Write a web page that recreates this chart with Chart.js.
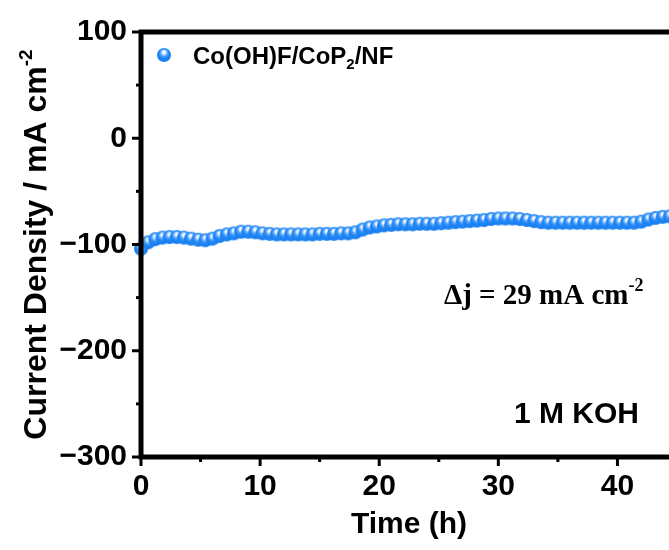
<!DOCTYPE html>
<html><head><meta charset="utf-8">
<script src="https://cdn.jsdelivr.net/npm/chart.js@4.4.1/dist/chart.umd.min.js"></script>
<style>
html,body{margin:0;padding:0;background:#fff;overflow:hidden;}
#wrap{width:669px;height:550px;overflow:hidden;position:relative;background:#fff;}
#box{width:690px;height:550px;position:relative;}
canvas{display:block;}
</style></head><body>
<div id="wrap"><div id="box"><canvas id="c"></canvas></div></div>
<script>
// ---- data ----
const timeStepH = 0.6; // sampling interval of plotted markers (h)
const currentDensity = [
  -104, -98, -95, -93.5, -93, -93, -93.5, -94.5, -95.5, -96,
  -94.5, -92, -90.5, -89.5, -88, -88, -88.5, -89.5, -90, -90.5,
  -90.5, -90.5, -90.5, -90.5, -90.5, -90, -90, -90, -89.5, -89.5,
  -88.5, -86, -84, -83, -82, -81.5, -81, -81, -81, -80.5,
  -80.5, -80.5, -80, -79.5, -79, -78.5, -78, -77.5, -77, -76,
  -75.5, -75.5, -75.5, -76, -77, -78, -79, -79.5, -79.5, -79.5,
  -79.5, -79.5, -79.5, -79.5, -79.5, -79.5, -79.5, -79.5, -79.5, -79.5,
  -78.5, -76.5, -75, -74, -73.5, -73.5
];
const seriesName = ['Co(OH)F/CoP', '2', '/NF'];
const xTickValues = [0, 5, 10, 15, 20, 25, 30, 35, 40, 45];
const xTickLabels = ['0', '', '10', '', '20', '', '30', '', '40', ''];
const yTickValues = [100, 50, 0, -50, -100, -150, -200, -250, -300];
const yTickLabels = ['100', '', '0', '', '\u2212100', '', '\u2212200', '', '\u2212300'];
const xTitle = 'Time (h)';
const yTitle = ['Current Density / mA cm', '-2'];
const deltaText = ['\u0394j = 29 mA cm', '-2'];
const electrolyteText = '1 M KOH';

// ---- styling ----
const SANS = '"Liberation Sans", Arial, sans-serif';
const SERIF = '"Liberation Serif", "Times New Roman", serif';
const BLUE = '#1a7ff0';

function makeSphere(r) {
  const s = Math.ceil(r * 2 + 2);
  const c = document.createElement('canvas');
  c.width = s; c.height = s;
  const g = c.getContext('2d');
  const cx = s / 2, cy = s / 2;
  const grad = g.createRadialGradient(cx, cy - r * 0.45, 0, cx, cy - r * 0.15, r * 1.05);
  grad.addColorStop(0, '#ffffff');
  grad.addColorStop(0.2, '#eef5ff');
  grad.addColorStop(0.45, '#5aa8ff');
  grad.addColorStop(0.68, '#2086f5');
  grad.addColorStop(1, '#1a7ff0');
  g.fillStyle = grad;
  g.beginPath(); g.arc(cx, cy, r, 0, Math.PI * 2); g.fill();
  return c;
}
const sphere = makeSphere(7);
const legendSphere = makeSphere(7);

const points = currentDensity.map((v, i) => ({ x: +(i * timeStepH).toFixed(2), y: v }));

function drawSup(ctx, parts, x, y, font, supFont, supRaise, align) {
  ctx.font = font;
  const w1 = ctx.measureText(parts[0]).width;
  ctx.font = supFont;
  const w2 = ctx.measureText(parts[1]).width;
  let sx = x;
  if (align === 'center') sx = x - (w1 + w2) / 2;
  ctx.textAlign = 'left';
  ctx.textBaseline = 'alphabetic';
  ctx.font = font;
  ctx.fillText(parts[0], sx, y);
  ctx.font = supFont;
  ctx.fillText(parts[1], sx + w1, y - supRaise);
}

const framePlugin = {
  id: 'frame',
  afterDraw(chart) {
    const { ctx, chartArea: a, scales } = chart;
    const xs = scales.x, ys = scales.y;
    ctx.save();
    ctx.strokeStyle = '#000';
    ctx.fillStyle = '#000';
    // ticks
    ctx.lineWidth = 3;
    xTickValues.forEach((v, i) => {
      const px = xs.getPixelForValue(v);
      const len = xTickLabels[i] !== '' ? 9 : 5;
      ctx.beginPath(); ctx.moveTo(px, a.bottom); ctx.lineTo(px, a.bottom + len); ctx.stroke();
    });
    yTickValues.forEach((v, i) => {
      const py = ys.getPixelForValue(v);
      const len = yTickLabels[i] !== '' ? 9 : 5;
      ctx.beginPath(); ctx.moveTo(a.left, py); ctx.lineTo(a.left - len, py); ctx.stroke();
    });
    // frame
    ctx.lineWidth = 5;
    ctx.strokeRect(a.left, a.top, a.right - a.left, a.bottom - a.top);

    // y title
    ctx.save();
    ctx.translate(34, (a.top + a.bottom) / 2);
    ctx.rotate(-Math.PI / 2);
    drawSup(ctx, yTitle, 0, 11.5, 'bold 32px ' + SANS, 'bold 19px ' + SANS, 14, 'center');
    ctx.restore();

    // legend
    ctx.drawImage(legendSphere, 164 - legendSphere.width / 2, 55 - legendSphere.height / 2);
    ctx.textBaseline = 'alphabetic';
    ctx.textAlign = 'left';
    ctx.font = 'bold 24px ' + SANS;
    let lx = 193;
    const ly = 64;
    ctx.fillText(seriesName[0], lx, ly); lx += ctx.measureText(seriesName[0]).width;
    ctx.font = 'bold 15px ' + SANS;
    ctx.fillText(seriesName[1], lx, ly + 5); lx += ctx.measureText(seriesName[1]).width;
    ctx.font = 'bold 24px ' + SANS;
    ctx.fillText(seriesName[2], lx, ly);

    // annotations
    drawSup(ctx, deltaText, 444, 304, 'bold 29px ' + SERIF, 'bold 18px ' + SERIF, 13, 'left');
    ctx.font = 'bold 30px ' + SANS;
    ctx.textAlign = 'left';
    ctx.textBaseline = 'alphabetic';
    ctx.fillText(electrolyteText, 514, 423);
    ctx.restore();
  }
};

new Chart(document.getElementById('c'), {
  type: 'scatter',
  data: {
    datasets: [{
      label: seriesName.join(''),
      data: points,
      pointStyle: sphere,
      pointRadius: 7,
      pointHoverRadius: 7,
      showLine: false,
      clip: false,
      order: 1,
      backgroundColor: BLUE,
      borderColor: BLUE
    }, {
      label: 'band',
      data: points,
      pointRadius: 0,
      showLine: true,
      borderWidth: 9,
      borderColor: BLUE,
      backgroundColor: BLUE,
      clip: false,
      order: 2
    }]
  },
  options: {
    responsive: true,
    maintainAspectRatio: false,
    animation: false,
    events: [],
    layout: { padding: { top: 25, right: 13, left: 0, bottom: 0 } },
    plugins: { legend: { display: false }, tooltip: { enabled: false } },
    scales: {
      x: {
        type: 'linear', min: 0, max: 45,
        afterBuildTicks: s => { s.ticks = xTickValues.map(v => ({ value: v })); },
        afterFit: s => { s.height = 93; },
        grid: { display: false, drawTicks: false },
        border: { display: false },
        ticks: {
          autoSkip: false, maxRotation: 0, padding: 12, color: '#000',
          font: { family: SANS, size: 30, weight: 'bold' },
          callback: (v, i) => xTickLabels[i]
        },
        title: {
          display: true, text: xTitle, color: '#000',
          font: { family: SANS, size: 30, weight: 'bold' },
          padding: { top: 0, bottom: 7 }
        }
      },
      y: {
        type: 'linear', min: -300, max: 100,
        afterBuildTicks: s => { s.ticks = yTickValues.map(v => ({ value: v })); },
        afterFit: s => { s.width = 141; },
        grid: { display: false, drawTicks: false },
        border: { display: false },
        ticks: {
          autoSkip: false, padding: 14, color: '#000',
          font: { family: SANS, size: 30, weight: 'bold' },
          callback: (v, i) => yTickLabels[i]
        }
      }
    }
  },
  plugins: [framePlugin]
});
</script>
</body></html>
